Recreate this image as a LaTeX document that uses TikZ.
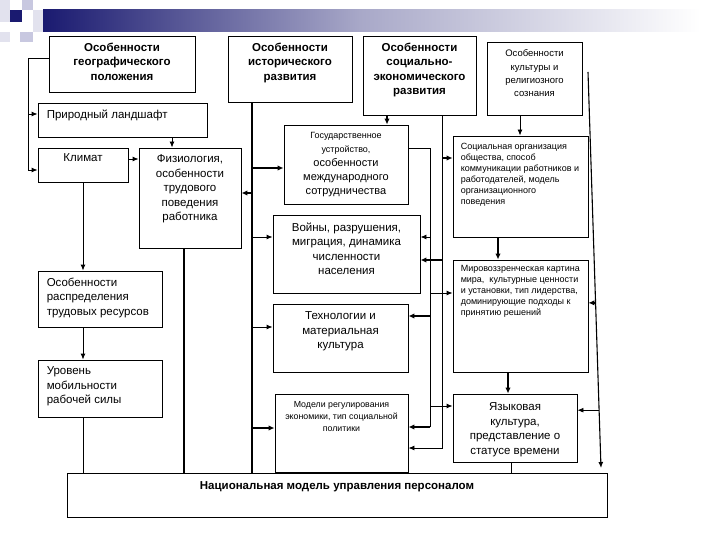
\documentclass[tikz,border=0pt]{standalone}
\usepackage{fontspec}
\setmainfont{Liberation Sans}
\usetikzlibrary{arrows.meta,fit,calc}
\definecolor{hdra}{RGB}{26,26,112}
\definecolor{hdrb}{RGB}{168,168,200}
\definecolor{sqa}{RGB}{200,200,224}
\definecolor{sqb}{RGB}{226,226,238}
\begin{document}
\begin{tikzpicture}[x=1pt,y=-1pt,
  box/.style={draw, line width=0.9pt, inner sep=0pt},
  txt/.style={anchor=north, inner sep=0pt, align=center, font=\fontsize{11.5}{14.5}\selectfont},
  txtl/.style={anchor=north west, inner sep=0pt, align=left, font=\fontsize{11.5}{14.5}\selectfont},
  txtb/.style={anchor=north, inner sep=0pt, align=center, font=\bfseries\fontsize{11.5}{14.5}\selectfont},
  sml/.style={anchor=north west, inner sep=0pt, align=left, font=\fontsize{9}{11}\selectfont},
  ln/.style={line width=0.9pt},
  lnb/.style={line width=1.7pt},
  arr/.style={ln, -{Latex[length=6pt,width=5pt]}},
  arrb/.style={lnb, -{Latex[length=6pt,width=5.5pt]}}]
\useasboundingbox (0,0) rectangle (720,540);
\fill[white] (0,0) rectangle (720,540);
% header decoration
\fill[sqb] (0,0) rectangle (10,10);
\fill[sqa] (22,0) rectangle (33,10);
\fill[sqb] (0,10) rectangle (10,22);
\fill[hdra] (10,10) rectangle (22,22);
\fill[sqb] (33,10) rectangle (43,32);
\fill[sqa] (20,32) rectangle (33,42);
\fill[sqb] (0,32) rectangle (10,42);
\shade[left color=hdra, right color=hdrb] (43,10) rectangle (360,32);
\shade[left color=hdrb, right color=white] (359.5,10) rectangle (700,32);

% boxes
\node[box, fit={(49,36) (195,92)}] (geo) {};
\node[box, fit={(228,36) (352,102)}] (hist) {};
\node[box, fit={(363,36) (476,115)}] (soc) {};
\node[box, fit={(487,42) (582,115)}] (cult) {};
\node[box, fit={(38,103) (207,137)}] (land) {};
\node[box, fit={(38,148) (128,182)}] (klim) {};
\node[box, fit={(139,148) (241,248)}] (fiz) {};
\node[box, fit={(284,125) (408,204)}] (gos) {};
\node[box, fit={(273,215) (420,293)}] (voy) {};
\node[box, fit={(273,304) (408,372)}] (tech) {};
\node[box, fit={(275,394) (408,472)}] (mod) {};
\node[box, fit={(453,136) (588,237)}] (sorg) {};
\node[box, fit={(453,260) (588,372)}] (mir) {};
\node[box, fit={(453,394) (577,462)}] (yaz) {};
\node[box, fit={(38,271) (162,327)}] (rasp) {};
\node[box, fit={(38,360) (162,417)}] (mob) {};
\node[box, fit={(67,473) (607,517)}] (nat) {};

% texts
\node[txtb] (geoT) at ($(geo.north)+(0,7)$) {Особенности\\географического\\положения};
\node[txtb] (histT) at ($(hist.north)+(0,7)$) {Особенности\\исторического\\развития};
\node[txtb] (socT) at ($(soc.north)+(0,7)$) {Особенности\\социально-\\экономического\\развития};
\node[txt, font=\fontsize{9.5}{13.3}\selectfont] (cultT) at ($(cult.north)+(0,8)$) {Особенности\\культуры и\\религиозного\\сознания};
\node[txtl] (landT) at ($(land.north west)+(9,7)$) {Природный ландшафт};
\node[txt] (klimT) at ($(klim.north)+(0,6)$) {Климат};
\node[txt] (fizT) at ($(fiz.north)+(0,7)$) {Физиология,\\особенности\\трудового\\поведения\\работника};
\node[txt, font=\fontsize{11}{14}\selectfont] (gosT) at ($(gos.north)+(0,8)$) {{\fontsize{9}{14}\selectfont Государственное}\\{\fontsize{9}{14}\selectfont устройство,}\\особенности\\международного\\сотрудничества};
\node[txt] (voyT) at ($(voy.north)+(0,8)$) {Войны, разрушения,\\миграция, динамика\\численности\\населения};
\node[txt] (techT) at ($(tech.north)+(0,8)$) {Технологии и\\материальная\\культура};
\node[txt, font=\fontsize{8.8}{12}\selectfont] (modT) at ($(mod.north)+(0,8)$) {Модели регулирования\\экономики, тип социальной\\политики};
\node[sml] (sorgT) at ($(sorg.north west)+(8,7)$) {Социальная организация\\общества, способ\\коммуникации работников и\\работодателей, модель\\организационного\\поведения};
\node[sml] (mirT) at ($(mir.north west)+(8,6)$) {Мировоззренческая картина\\мира,\ \ культурные ценности\\и установки, тип лидерства,\\доминирующие подходы к\\принятию решений};
\node[txt] (yazT) at ($(yaz.north)+(0,9)$) {Языковая\\культура,\\представление о\\статусе времени};
\node[txtl] (raspT) at ($(rasp.north west)+(9,7)$) {Особенности\\распределения\\трудовых ресурсов};
\node[txtl] (mobT) at ($(mob.north west)+(9,7)$) {Уровень\\мобильности\\рабочей силы};
\node[txtb] (natT) at ($(nat.north)+(0,9)$) {Национальная модель управления персоналом};

% helper coordinates
\coordinate (hx) at (252,0);
\coordinate (gx) at (430,0);
\coordinate (sx) at (442,0);
\coordinate (lt) at (588,72);
\coordinate (lb) at (601,468);
\coordinate (b1) at ($(lt)!0.583!(lb)$);
\coordinate (b2) at ($(lt)!0.854!(lb)$);

% left column
\draw[arr] (geo.west |- 0,58) -- (28,58) |- (klim.west |- 0,170);
\draw[arr] (28,114) -- (land.west |- 0,114);
\draw[arr] (land.south -| 172,0) -- (fiz.north -| 172,0);
\draw[arr] (klim.east |- 0,159) -- (fiz.west |- 0,159);
\draw[arr] (klim.south) -- (rasp.north -| klim.south);
\draw[arr] (rasp.south -| klim.south) -- (mob.north -| klim.south);
\draw[ln] (mob.south -| klim.south) -- (nat.north -| klim.south);
\draw[lnb] (fiz.south -| 184,0) -- (nat.north -| 184,0);

% historical line
\draw[line width=1.1pt] (hist.south -| hx) -- (nat.north -| hx);
\draw[arrb] (hx |- 0,168) -- (gos.west |- 0,168);
\draw[arrb] (hx |- 0,193) -- (fiz.east |- 0,193);
\draw[arr] (hx |- 0,237) -- (voy.west |- 0,237);
\draw[arr] (hx |- 0,327) -- (tech.west |- 0,327);
\draw[arrb] (hx |- 0,428) -- (mod.west |- 0,428);

% socio-economic line
\draw[arrb] (soc.south -| 387,0) -- (gos.north -| 387,0);
\draw[arr] (soc.south -| sx) |- (mod.east |- 0,448);
\draw[arrb] (sx |- 0,158) -- (sorg.west |- 0,158);
\draw[arrb] (sx |- 0,260) -- (voy.east |- 0,260);

% state line
\draw[ln] (gos.east |- 0,148) -| (gx |- 0,427);
\draw[arrb] (gx |- 0,427) -- (mod.east |- 0,427);
\draw[arr] (gx |- 0,237) -- (voy.east |- 0,237);
\draw[arr] (gx |- 0,293) -- (mir.west |- 0,293);
\draw[arrb] (gx |- 0,316) -- (tech.east |- 0,316);
\draw[arr] (gx |- 0,406) -- (yaz.west |- 0,406);

% right column
\draw[arr] (cult.south -| 520,0) -- (sorg.north -| 520,0);
\draw[arrb] (sorg.south -| 498,0) -- (mir.north -| 498,0);
\draw[arrb] (mir.south -| 508,0) -- (yaz.north -| 508,0);
\draw[ln] (yaz.south -| 511,0) -- (nat.north -| 511,0);
\draw[ln] (mod.south -| 342,0) -- (nat.north -| 342,0);

% long right line
\draw[arr, line width=1.1pt] (lt) -- (lb);
\draw[arrb] (b1) -- (mir.east |- b1);
\draw[arr] (b2) -- (yaz.east |- b2);
\end{tikzpicture}
\end{document}
